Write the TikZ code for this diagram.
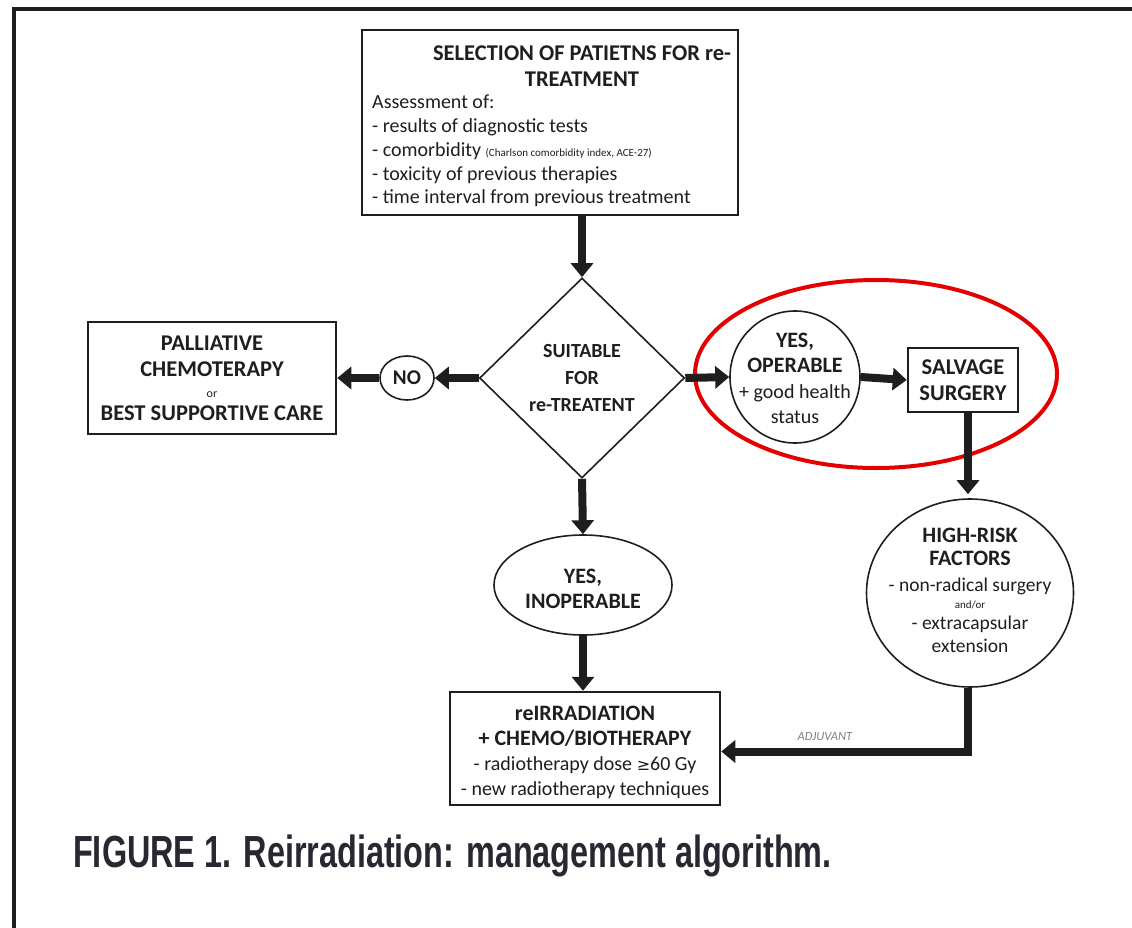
\documentclass[tikz,border=0pt]{standalone}
\usepackage{fontspec}
\setmainfont{Carlito}
\newfontfamily\capfont[FakeStretch=0.72]{Liberation Sans}
\newfontfamily\symfont{DejaVu Sans}
\usetikzlibrary{shapes.geometric,arrows.meta}
\definecolor{ink}{RGB}{30,30,30}
\definecolor{hlred}{RGB}{228,0,0}
\definecolor{capgray}{RGB}{40,40,50}
\begin{document}
\begin{tikzpicture}[x=1pt,y=-1pt,
  every node/.style={text=ink},
  box/.style={draw=ink,line width=2.5pt,rectangle,inner sep=0pt,align=center},
  oval/.style={draw=ink,line width=1.6pt,ellipse,inner sep=0pt},
  dia/.style={draw=ink,line width=1.6pt,diamond,inner sep=0pt,align=center},
  lbl/.style={inner sep=0pt,align=center},
  flow/.style={draw=ink,line width=8pt,line join=miter,-{Triangle[width=22pt,length=14pt]}},
  hd/.style={font=\bfseries\fontsize{22.5}{26}\selectfont},
  txt/.style={font=\fontsize{20}{23.7}\selectfont}]
\useasboundingbox (0,0) rectangle (1132,928);
% frame
\coordinate (fbl) at (14,928);
\coordinate (ftl) at (14,9);
\coordinate (ftr) at (1132,9);
\draw[line width=4pt,ink] (fbl) -- (ftl) -- (ftr);

% top box
\node[box,minimum width=376pt,minimum height=185pt] (sel) at (550,122.5) {};
\node[hd,align=center] (seltitle) at (582,66) {SELECTION OF PATIETNS FOR re-\\TREATMENT};
\node[txt,anchor=north west,align=left,inner sep=0pt] (sellist) at (372,95)
 {Assessment of:\\
  - results of diagnostic tests\\
  - comorbidity {\fontsize{11}{12}\selectfont (Charlson comorbidity index, ACE-27)}\\
  - toxicity of previous therapies\\
  - time interval from previous treatment};

% diamond
\node[dia,minimum width=205pt,minimum height=200pt,font=\bfseries\fontsize{20}{27}\selectfont] (suit) at (582,378)
 {SUITABLE\\FOR\\re-TREATENT};

% NO
\node[oval,minimum width=54pt,minimum height=44pt] (no) at (407,378) {};
\node[lbl,font=\bfseries\fontsize{21}{24}\selectfont] (notext) at (no.center) {NO};

% palliative
\node[box,minimum width=248pt,minimum height=112pt,hd] (pal) at (212,378)
 {PALLIATIVE\\CHEMOTERAPY\\[-5pt]{\mdseries\fontsize{12}{14}\selectfont or}\\[-3pt]BEST SUPPORTIVE CARE};

% yes operable
\node[oval,minimum width=130pt,minimum height=132pt] (op) at (795,377) {};
\node[lbl,font=\fontsize{20}{25.5}\selectfont] (optext) at ([yshift=-1.5pt]op.center)
 {\textbf{\fontsize{22}{25.5}\selectfont YES,}\\\textbf{\fontsize{22}{26.5}\selectfont OPERABLE}\\+ good health\\status};

% salvage
\node[box,minimum width=110pt,minimum height=64pt,hd] (salv) at (963,380)
 {SALVAGE\\SURGERY};

% highlight
\node[draw=hlred,line width=4pt,ellipse,minimum width=362pt,minimum height=188pt] (hl) at (876,374) {};

% high-risk
\node[oval,minimum width=207pt,minimum height=188pt] (hr) at (970,593) {};
\node[lbl,font=\fontsize{19.5}{23}\selectfont] (hrtext) at (970,590)
 {\textbf{\fontsize{22}{26}\selectfont HIGH-RISK}\\\textbf{\fontsize{22}{26}\selectfont FACTORS}\\[3pt]- non-radical surgery\\[-6pt]{\fontsize{11}{12}\selectfont and/or}\\[-2pt]- extracapsular\\extension};

% yes inoperable
\node[oval,minimum width=178pt,minimum height=100pt] (inop) at (583,585) {};
\node[lbl,font=\bfseries\fontsize{22}{25}\selectfont] (inoptext) at ([yshift=-4pt]inop.center)
 {YES,\\INOPERABLE};

% reirradiation
\node[box,minimum width=270pt,minimum height=113pt] (reirr) at (585,748.5) {};
\node[lbl,font=\fontsize{20}{25}\selectfont] (reirrtext) at ([yshift=-4pt]reirr.center)
 {\textbf{\fontsize{22}{25.5}\selectfont reIRRADIATION}\\\textbf{\fontsize{22}{25.5}\selectfont + CHEMO/BIOTHERAPY}\\- radiotherapy dose {\symfont\fontsize{16}{18}\selectfont ≥}60 Gy\\- new radiotherapy techniques};

% connectors
\draw[flow] (sel.south -| suit.north) -- (suit.north);
\draw[flow] (suit.west) -- (no.east);
\draw[flow] (no.west) -- (pal.east);
\draw[flow] (suit.east) -- (op.west);
\draw[flow] (op.east) -- (salv.west);
\draw[flow] ([xshift=5pt]salv.south) -- ([xshift=-2pt,yshift=4pt]hr.north);
\draw[flow] (suit.south) -- (inop.north);
\draw[flow] (inop.south) -- (reirr.north -| inop.south);
\draw[flow] ([xshift=-2pt]hr.south) |- ([yshift=-3pt]reirr.east) node[pos=0.79,above=4pt,font=\itshape\fontsize{12.5}{13}\selectfont,text=gray] (adj) {ADJUVANT};

% caption
\node[anchor=west,inner sep=0pt,text=capgray,font=\capfont\bfseries\fontsize{45}{48}\selectfont] (cap) at (73,856)
 {FIGURE 1. Reirradiation: management algorithm.};
\end{tikzpicture}
\end{document}
